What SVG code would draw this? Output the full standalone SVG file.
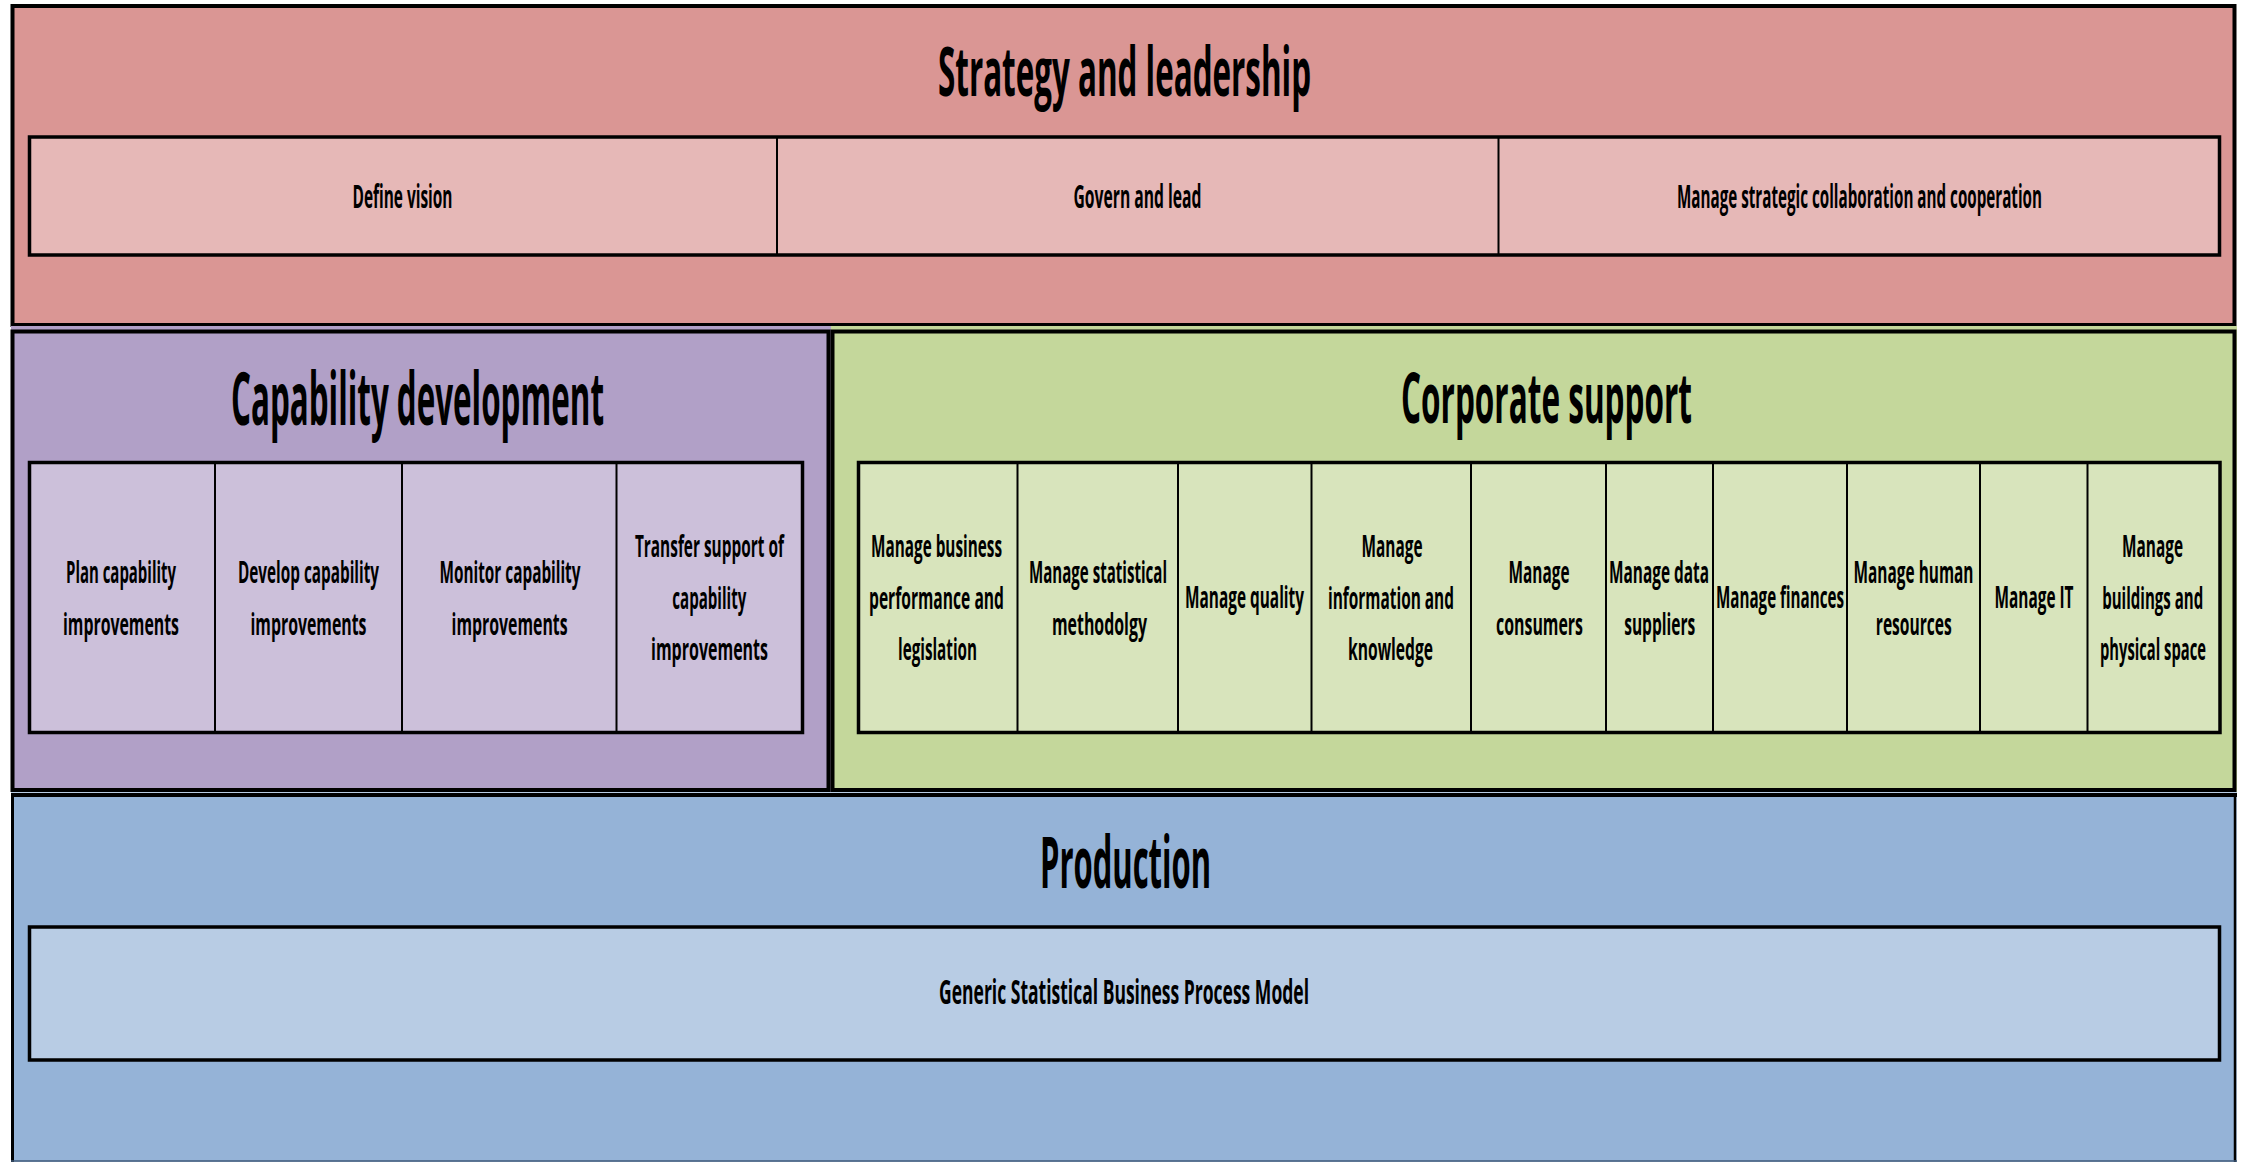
<svg xmlns="http://www.w3.org/2000/svg" width="2242" height="1162" viewBox="0 0 2242 1162">
<style>
text{font-family:"Open Sans","Noto Sans","Liberation Sans",sans-serif;font-weight:bold;fill:#000;text-anchor:middle}
.t{font-size:70px}
.c{font-size:29.5px}
.r{font-size:32px}
.blk{stroke:#000;stroke-width:4}
.cell{stroke:#000;stroke-width:3.5}
.div{stroke:#000;stroke-width:2}
</style>
<rect x="0" y="0" width="2242" height="1162" fill="#fff"/>
<g id="strategy">
<rect class="blk" x="12.5" y="6" width="2222" height="319" fill="#DA9694"/>
<text class="t" x="1124.5" y="96" style="font-size:68px" textLength="373" lengthAdjust="spacingAndGlyphs">Strategy and leadership</text>
<rect class="cell" x="29.5" y="137" width="2190" height="118" fill="#E6B8B7"/>
<line class="div" x1="777" y1="137" x2="777" y2="255"/>
<line class="div" x1="1498.5" y1="137" x2="1498.5" y2="255"/>
<text class="r" x="402.5" y="208" textLength="100" lengthAdjust="spacingAndGlyphs">Define vision</text>
<text class="r" x="1137.5" y="208" textLength="128" lengthAdjust="spacingAndGlyphs">Govern and lead</text>
<text class="r" x="1859.5" y="208" textLength="365" lengthAdjust="spacingAndGlyphs">Manage strategic collaboration and cooperation</text>
</g>
<g id="capability">
<rect x="11" y="326" width="820" height="467" fill="#B1A0C7"/>
<rect class="blk" x="12.5" y="331.5" width="816" height="458.5" fill="#B1A0C7"/>
<text class="t" x="417.5" y="425" style="font-size:73px" textLength="373" lengthAdjust="spacingAndGlyphs">Capability development</text>
<rect class="cell" x="29.5" y="462.5" width="773" height="270" fill="#CCC0DA"/>
<line class="div" x1="215" y1="462.5" x2="215" y2="732.5"/>
<line class="div" x1="402" y1="462.5" x2="402" y2="732.5"/>
<line class="div" x1="616.5" y1="462.5" x2="616.5" y2="732.5"/>
<text class="c" x="121" y="583" textLength="110" lengthAdjust="spacingAndGlyphs">Plan capability</text>
<text class="c" x="121" y="635" textLength="116" lengthAdjust="spacingAndGlyphs">improvements</text>
<text class="c" x="308.5" y="583" textLength="141" lengthAdjust="spacingAndGlyphs">Develop capability</text>
<text class="c" x="308.5" y="635" textLength="116" lengthAdjust="spacingAndGlyphs">improvements</text>
<text class="c" x="510" y="583" textLength="141" lengthAdjust="spacingAndGlyphs">Monitor capability</text>
<text class="c" x="509.6" y="635" textLength="116" lengthAdjust="spacingAndGlyphs">improvements</text>
<text class="c" x="709.4" y="557" textLength="149" lengthAdjust="spacingAndGlyphs">Transfer support of</text>
<text class="c" x="709.3" y="609" textLength="74" lengthAdjust="spacingAndGlyphs">capability</text>
<text class="c" x="709.5" y="660" textLength="117" lengthAdjust="spacingAndGlyphs">improvements</text>
</g>
<g id="corporate">
<rect x="831" y="326" width="1406" height="467" fill="#C4D79B"/>
<rect class="blk" x="832.5" y="331.5" width="1402" height="458.5" fill="#C4D79B"/>
<text class="t" x="1546.5" y="423" textLength="291" lengthAdjust="spacingAndGlyphs">Corporate support</text>
<rect class="cell" x="858.5" y="462.5" width="1361.5" height="270" fill="#D8E4BC"/>
<line class="div" x1="1017.5" y1="462.5" x2="1017.5" y2="732.5"/>
<line class="div" x1="1178" y1="462.5" x2="1178" y2="732.5"/>
<line class="div" x1="1311.5" y1="462.5" x2="1311.5" y2="732.5"/>
<line class="div" x1="1471" y1="462.5" x2="1471" y2="732.5"/>
<line class="div" x1="1606" y1="462.5" x2="1606" y2="732.5"/>
<line class="div" x1="1713" y1="462.5" x2="1713" y2="732.5"/>
<line class="div" x1="1847" y1="462.5" x2="1847" y2="732.5"/>
<line class="div" x1="1980" y1="462.5" x2="1980" y2="732.5"/>
<line class="div" x1="2087.5" y1="462.5" x2="2087.5" y2="732.5"/>
<text class="c" x="936.5" y="557" textLength="131" lengthAdjust="spacingAndGlyphs">Manage business</text>
<text class="c" x="936.5" y="609" textLength="135" lengthAdjust="spacingAndGlyphs">performance and</text>
<text class="c" x="937.5" y="660" textLength="79" lengthAdjust="spacingAndGlyphs">legislation</text>
<text class="c" x="1098" y="583" textLength="138" lengthAdjust="spacingAndGlyphs">Manage statistical</text>
<text class="c" x="1099.5" y="635" textLength="95" lengthAdjust="spacingAndGlyphs">methodolgy</text>
<text class="c" x="1244.5" y="608" textLength="119" lengthAdjust="spacingAndGlyphs">Manage quality</text>
<text class="c" x="1392" y="557" textLength="61" lengthAdjust="spacingAndGlyphs">Manage</text>
<text class="c" x="1391" y="609" textLength="126" lengthAdjust="spacingAndGlyphs">information and</text>
<text class="c" x="1390.5" y="660" textLength="85" lengthAdjust="spacingAndGlyphs">knowledge</text>
<text class="c" x="1539" y="583" textLength="61" lengthAdjust="spacingAndGlyphs">Manage</text>
<text class="c" x="1539.5" y="635" textLength="87" lengthAdjust="spacingAndGlyphs">consumers</text>
<text class="c" x="1659" y="583" textLength="100" lengthAdjust="spacingAndGlyphs">Manage data</text>
<text class="c" x="1659.7" y="635" textLength="71" lengthAdjust="spacingAndGlyphs">suppliers</text>
<text class="c" x="1780" y="608" textLength="128" lengthAdjust="spacingAndGlyphs">Manage finances</text>
<text class="c" x="1913.5" y="583" textLength="120" lengthAdjust="spacingAndGlyphs">Manage human</text>
<text class="c" x="1913.8" y="635" textLength="76" lengthAdjust="spacingAndGlyphs">resources</text>
<text class="c" x="2034" y="608" textLength="79" lengthAdjust="spacingAndGlyphs">Manage IT</text>
<text class="c" x="2152.5" y="557" textLength="61" lengthAdjust="spacingAndGlyphs">Manage</text>
<text class="c" x="2152.7" y="609" textLength="101" lengthAdjust="spacingAndGlyphs">buildings and</text>
<text class="c" x="2153" y="660" textLength="106" lengthAdjust="spacingAndGlyphs">physical space</text>
</g>
<g id="production">
<rect x="11" y="792" width="2226" height="370" fill="#B8CCE4"/>
<rect x="12.5" y="795" width="2222" height="366" fill="#95B3D7"/>
<line x1="11" y1="795" x2="2237" y2="795" stroke="#000" stroke-width="4"/>
<line x1="12.5" y1="795" x2="12.5" y2="1162" stroke="#000" stroke-width="3"/>
<line x1="2235" y1="795" x2="2235" y2="1162" stroke="#000" stroke-width="2.5"/>
<line x1="11" y1="1161" x2="2237" y2="1161" stroke="#3f5a7a" stroke-width="1.5"/>
<text class="t" x="1125.5" y="888" style="font-size:71px" textLength="171" lengthAdjust="spacingAndGlyphs">Production</text>
<rect class="cell" x="29.5" y="927" width="2190" height="133" fill="#B8CCE4"/>
<text class="r" x="1124" y="1004" style="font-size:34.5px" textLength="370" lengthAdjust="spacingAndGlyphs">Generic Statistical Business Process Model</text>
</g>
<g id="connectors"/>
</svg>
